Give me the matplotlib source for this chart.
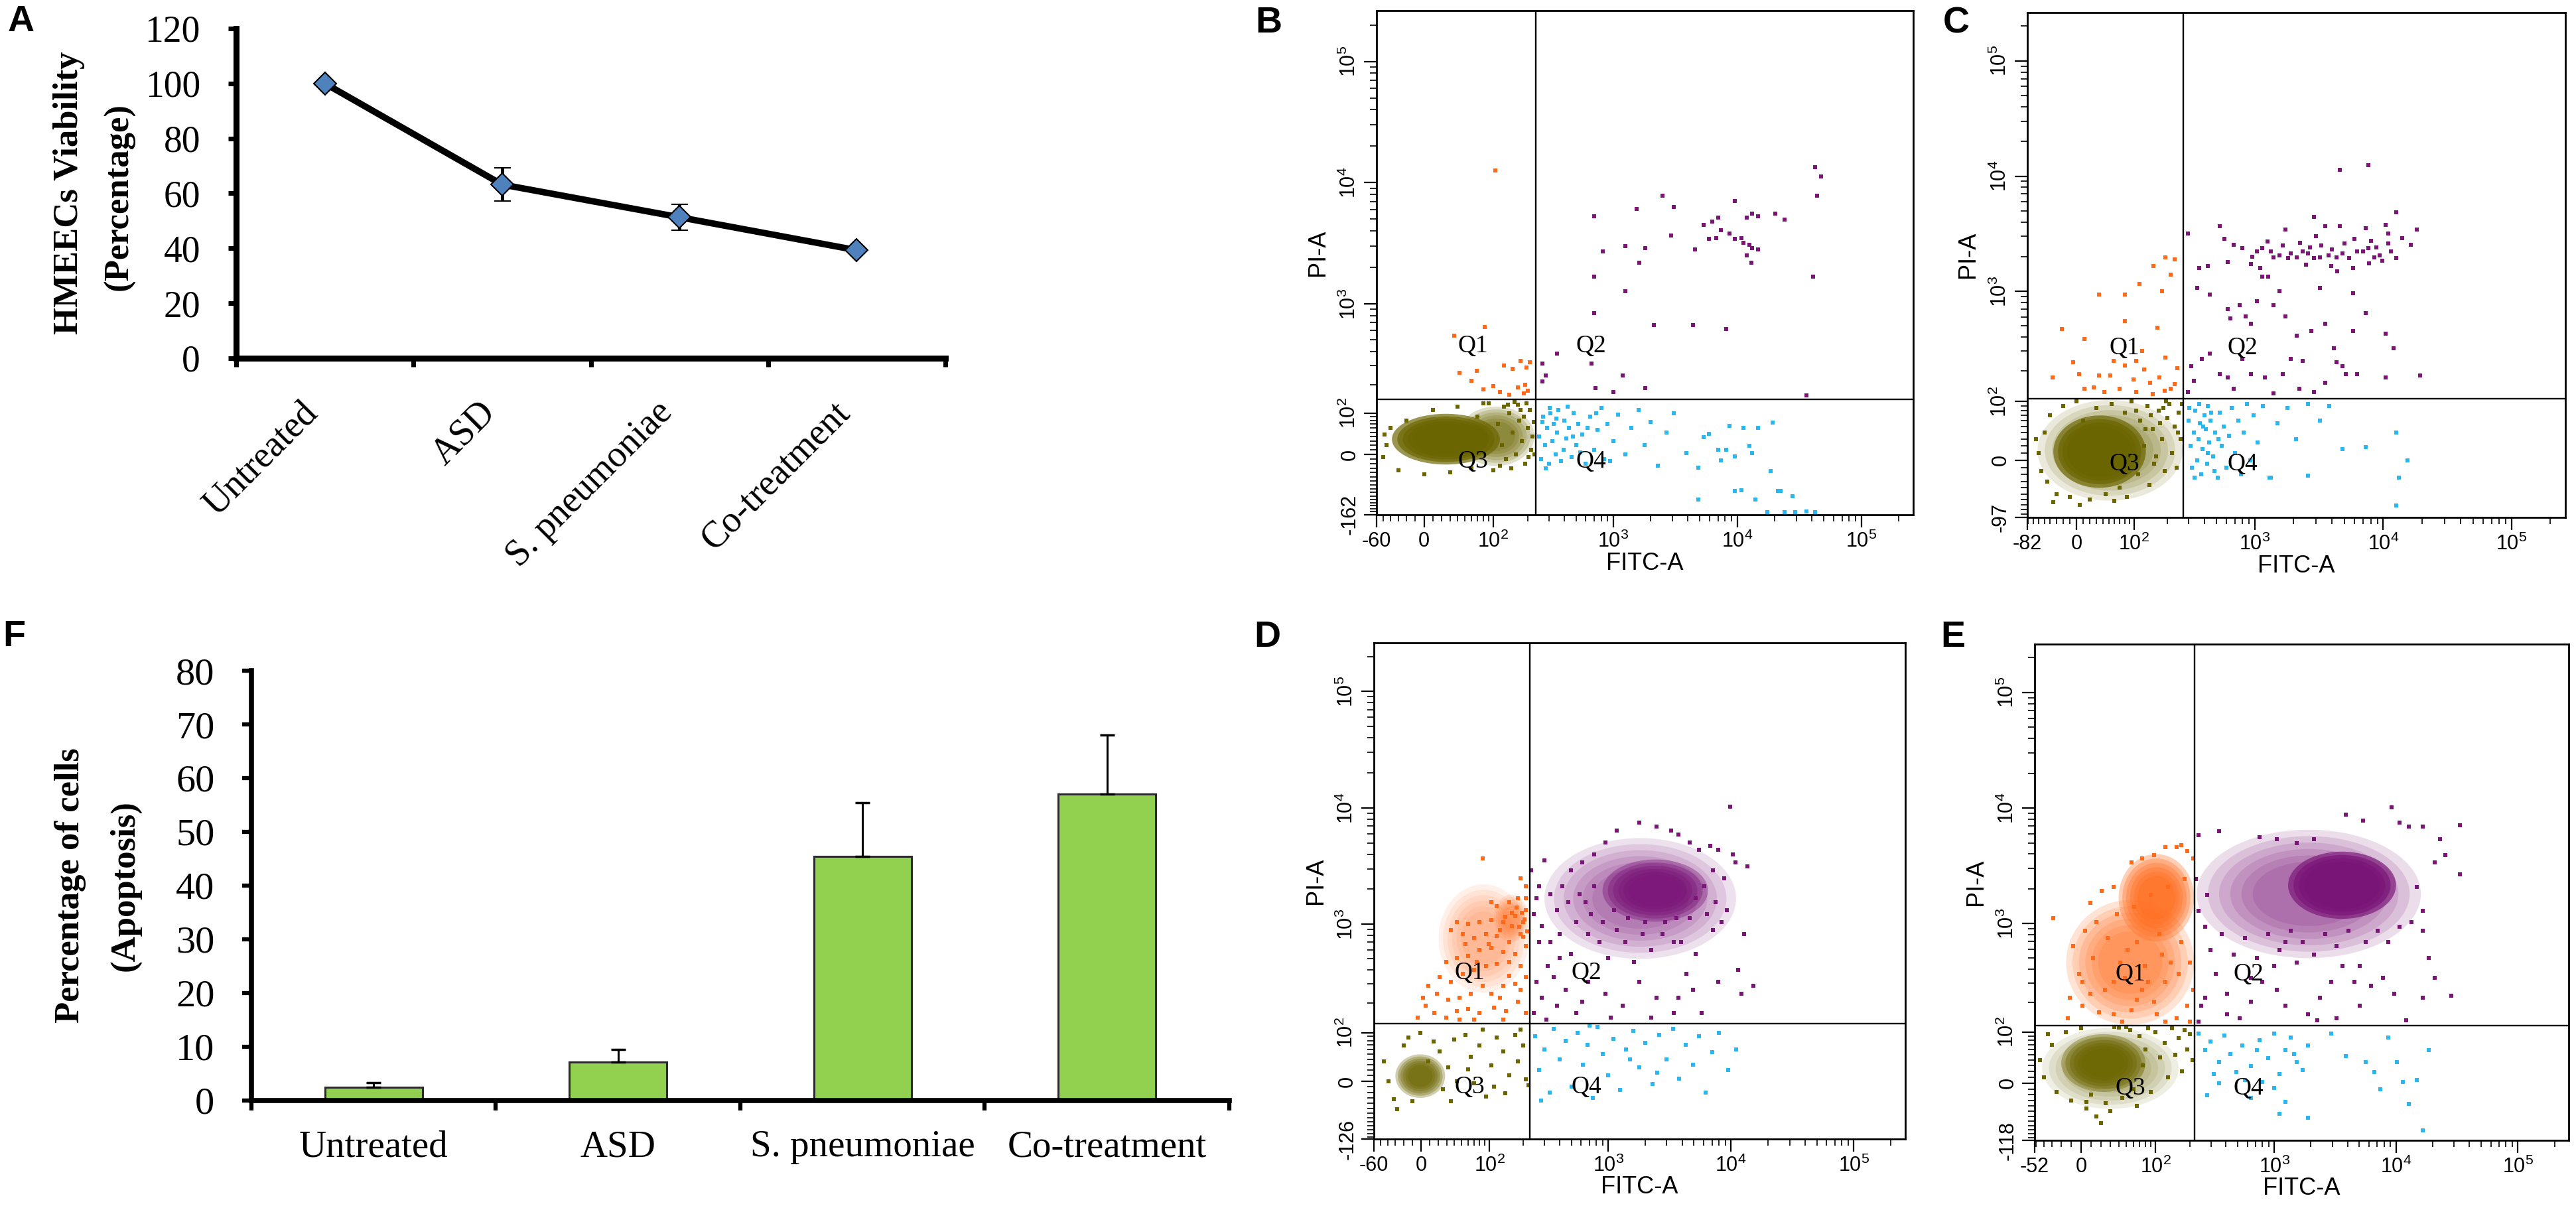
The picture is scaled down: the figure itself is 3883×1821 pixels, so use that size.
import numpy as np
import matplotlib
matplotlib.use("Agg")
import matplotlib.pyplot as plt

plt.rcParams["font.family"] = ["Liberation Sans", "DejaVu Sans"]
plt.rcParams["mathtext.fontset"] = "custom"
plt.rcParams["mathtext.rm"] = "Liberation Sans"
plt.rcParams["mathtext.it"] = "Liberation Sans:italic"
plt.rcParams["mathtext.bf"] = "Liberation Sans:bold"

# ---------------- panel A / F data
groups = ["Untreated", "ASD", "S. pneumoniae", "Co-treatment"]
viab = [100, 63.2, 51.3, 39.3]
viab_err = [0, 6, 4.7, 0.8]
apop = [2.5, 7.2, 45.4, 57.0]
apop_err = [0.8, 2.3, 10.0, 11.0]

# ---------------- flow panels (FITC-A, PI-A) events
# axis minimums shown on the plots, and quadrant gates
b_min = (-60, -162)
c_min = (-82, -97)
d_min = (-60, -126)
e_min = (-52, -118)
b_gate = (233, 143)
c_gate = (272, 107)
d_gate = (227, 126)
e_gate = (220, 119)

# B : untreated
b_q1 = [(104, 12600), (83, 640), (35, 540), (42, 260), (68, 270), (125, 300), (150, 280),
        (175, 330), (195, 290), (210, 320), (80, 180), (100, 195), (115, 170), (140, 160),
        (165, 190), (190, 200), (185, 165), (60, 220), (200, 175)]
b_q2 = [(700, 5300), (1540, 6100), (2490, 7800), (3070, 6300), (2920, 3680), (1250, 2990),
        (1810, 2900), (820, 2700), (1620, 2185), (700, 1680), (1250, 1270), (700, 840),
        (2120, 670), (350, 380), (265, 315), (285, 245), (1200, 245), (1810, 187), (720, 187),
        (1000, 170), (265, 215), (670, 315), (5390, 4490), (6330, 4800), (7000, 5170),
        (9600, 7060), (12000, 5170), (13200, 5550), (14800, 5300), (20400, 5550), (24000, 4950),
        (7400, 4070), (8700, 3800), (9600, 3440), (10800, 3500), (11300, 3200), (12600, 3080),
        (13200, 2900), (14800, 2820), (12000, 2520), (13000, 2185), (4600, 2820), (5950, 3440),
        (6800, 3500), (42700, 13400), (47700, 11300), (44000, 7800), (40700, 1680), (4400, 670),
        (8200, 620), (36300, 157)]
b_q3 = [(-45, 20), (-40, 60), (-30, -35), (-20, 80), (0, -45), (10, 110), (30, -40), (40, 120),
        (60, -30), (70, 90), (90, 130), (110, 70), (120, 20), (130, -10), (140, 100), (150, 50),
        (160, 0), (170, 80), (180, 30), (190, -20), (200, 60), (210, 110), (215, 10), (220, 40),
        (125, 120), (100, -35), (80, 130), (165, 125), (185, 90), (145, -30), (205, -5), (195, 130),
        (-50, -5), (-48, 45), (225, 75), (228, 0), (175, 110), (155, 135), (115, -25), (135, 125)]
b_q4 = [(250, 40), (260, -10), (270, 90), (280, 20), (290, 60), (300, -20), (310, 100), (320, 30),
        (330, 70), (340, 0), (350, 50), (360, 110), (380, -15), (400, 80), (420, 35), (440, 60),
        (460, -5), (480, 100), (500, 20), (520, 70), (560, 45), (600, -20), (650, 90), (700, 10),
        (750, 55), (800, 115), (850, -10), (900, 70), (1000, 30), (1100, 95), (1250, 0),
        (1400, 60), (1600, 110), (1800, 20), (2000, 75), (2300, -25), (2700, 50), (3100, 100),
        (265, 75), (285, -30), (305, 115), (345, 85), (395, 10), (430, 120), (470, 40), (540, 5),
        (620, 60), (730, 100), (950, -15), (3900, 3), (4840, -29), (5390, 38), (5950, 47),
        (7000, 10), (7400, -13), (8200, 10), (8700, 65), (9600, -4), (11300, 60), (12600, 19),
        (13200, 3), (14800, 60), (18600, -36), (19200, 74), (9600, -86), (10800, -84),
        (21300, -86), (22300, -86), (28000, -101), (4840, -111), (14000, -111), (17600, -153),
        (24000, -153), (29500, -153), (36300, -150), (42700, -153)]
b_blobs = [("q3", 40, 228, -25, 120, 0.75), ("q3", -38, 115, -22, 98, 1.0)]

# C : ASD
c_q1 = [(-22, 472), (12, 382), (34, 940), (80, 940), (114, 1160), (153, 1670), (193, 1980),
        (230, 1900), (215, 1390), (180, 1010), (80, 550), (166, 485), (53, 180), (4, 185),
        (-36, 174), (-5, 237), (34, 180), (26, 140), (12, 135), (70, 135), (80, 222), (106, 245),
        (126, 204), (143, 155), (172, 174), (193, 262), (215, 135), (243, 212), (59, 245),
        (99, 165), (43, 125), (106, 125), (150, 120), (230, 150), (190, 130), (120, 300)]
c_q2 = [(297, 3200), (365, 1600), (425, 1670), (530, 3680), (580, 2870), (610, 1790), (680, 2540),
        (800, 2390), (935, 1740), (1035, 2230), (1140, 2390), (1330, 2230), (1400, 1980),
        (1560, 2060), (1740, 3430), (1820, 1940), (1900, 2140), (2120, 1980), (2350, 2230),
        (2600, 2140), (2900, 4400), (2900, 1940), (3210, 1980), (3540, 3680), (3750, 2060),
        (3960, 1670), (4330, 1980), (4580, 3680), (4840, 2140), (5400, 1940), (5800, 1600),
        (6270, 2230), (6950, 2230), (7290, 3550), (7650, 2390), (8050, 2750), (8500, 1980),
        (9350, 2060), (10400, 3790), (10900, 3200), (11500, 2230), (12700, 4870), (12700, 1940),
        (16500, 2540), (18300, 3430), (4580, 11300), (7650, 12450), (350, 1070), (445, 940),
        (610, 705), (645, 580), (760, 755), (845, 605), (935, 525), (1035, 820), (1140, 1350),
        (1270, 1350), (1400, 755), (1560, 1010), (1740, 605), (2120, 410), (2350, 245),
        (2750, 450), (3210, 1070), (3540, 525), (4150, 320), (4840, 220), (5800, 970),
        (5800, 450), (7290, 650), (10400, 425), (12100, 320), (19300, 180), (330, 160),
        (385, 255), (445, 285), (530, 185), (610, 174), (680, 135), (800, 255), (935, 185),
        (1200, 174), (1400, 122), (1650, 185), (1900, 255), (2230, 135), (2900, 125),
        (3540, 155), (4330, 237), (5100, 185), (6270, 185), (10400, 174), (315, 220), (297, 125),
        (1250, 2700), (1650, 2500), (2250, 2650), (2700, 2400), (3300, 2500), (4000, 2300),
        (5000, 2600), (6000, 2850), (8800, 2400), (11000, 2600), (14000, 2900), (1100, 1600),
        (2500, 1700), (4400, 1500), (7800, 1750), (950, 2000), (3000, 3000), (9800, 1850)]
c_q3 = [(-60, 10), (-50, 40), (-45, -30), (-40, 70), (-30, -50), (-20, 90), (-10, -55), (0, 100),
        (10, 60), (20, -60), (30, 85), (45, -50), (55, 95), (70, -40), (80, 75), (95, 100),
        (110, -20), (115, 60), (125, 20), (135, 90), (140, -35), (150, 45), (160, 5), (170, 80),
        (180, 30), (190, -15), (200, 65), (210, 95), (220, 10), (230, 50), (240, -10), (250, 75),
        (260, 30), (265, 95), (130, 45), (145, 70), (155, -5), (175, 55), (195, 100), (105, 80),
        (-55, -15), (85, -55), (-65, 30), (-35, -65), (5, -70), (60, -62), (185, 85), (245, 40)]
c_q4 = [(300, 60), (310, 20), (320, -10), (330, 40), (340, 80), (350, 0), (360, 30), (370, 55),
        (380, -20), (390, 15), (400, 70), (410, 45), (420, -5), (430, 90), (440, 25), (450, 60),
        (470, 5), (490, 40), (510, -25), (530, 75), (550, 20), (570, 50), (600, -10), (630, 35),
        (660, 85), (700, 10), (740, 60), (780, -20), (820, 40), (870, 95), (920, 0), (980, 70),
        (1050, 25), (1150, 90), (1300, -25), (1500, 55), (1800, 85), (2100, 30), (2600, 95),
        (3200, 60), (3800, 90), (4800, 15), (305, 85), (335, -25), (365, 95), (395, 50),
        (425, 10), (455, 75), (480, -15), (520, 30), (12700, 40), (15400, 0), (13300, -25),
        (12700, -71), (7290, 18), (2600, -22), (1330, -25)]
c_blobs = [("q3", -62, 268, -62, 104, 0.6), ("q3", -35, 130, -40, 70, 1.0)]

# D : S. pneumoniae
d_q1 = [(86, 3670), (190, 2490), (210, 2120), (180, 1670), (150, 1540), (117, 1430), (210, 1320),
        (170, 1175), (133, 1045), (104, 1085), (80, 1045), (60, 1000), (43, 1045), (35, 890),
        (52, 820), (70, 760), (92, 820), (117, 790), (150, 700), (190, 820), (210, 650),
        (170, 555), (133, 577), (104, 625), (80, 600), (60, 533), (43, 510), (29, 472), (21, 343),
        (35, 315), (52, 370), (70, 402), (92, 435), (117, 453), (150, 472), (190, 435),
        (210, 343), (170, 302), (133, 290), (104, 245), (86, 290), (64, 245), (47, 225),
        (32, 216), (18, 245), (8, 290), (5, 190), (15, 160), (29, 146), (43, 168), (60, 175),
        (80, 160), (110, 182), (141, 168), (180, 207), (210, 160), (-4, 146), (2, 225),
        (104, 1540), (125, 890), (160, 960), (200, 1045), (210, 1670), (98, 675), (56, 675),
        (75, 472), (150, 357), (190, 265), (125, 225), (70, 139), (133, 139), (47, 139),
        (195, 1250), (205, 1100), (185, 950), (215, 870), (175, 1400), (160, 1250), (200, 780),
        (140, 1150)]
d_q2 = [(301, 3530), (258, 1670), (245, 1225), (285, 960), (338, 700), (402, 510), (318, 435),
        (360, 343), (450, 265), (285, 225), (382, 190), (552, 160), (258, 315), (272, 700),
        (423, 2120), (495, 2890), (615, 3390), (765, 3980), (955, 5010), (1178, 6370),
        (1795, 7470), (2470, 6900), (3270, 6370), (765, 2120), (652, 1540), (552, 1045),
        (686, 820), (846, 700), (1004, 510), (1178, 890), (1383, 700), (1620, 472), (1905, 820),
        (2235, 600), (2760, 820), (3430, 700), (1795, 315), (2470, 225), (3430, 160),
        (1315, 190), (955, 245), (686, 315), (495, 555), (338, 1810), (382, 1320), (473, 1540),
        (582, 1810), (722, 1225), (907, 1045), (1120, 1320), (1450, 1130), (2000, 1045),
        (2900, 1045), (3600, 1130), (2235, 146), (1055, 146), (615, 207), (402, 820),
        (272, 2120), (231, 2890), (245, 160), (310, 139), (9830, 10180), (3720, 5900),
        (4600, 5010), (5470, 4390), (6750, 4700), (7880, 4390), (10330, 3980), (10860, 3390),
        (13630, 3130), (7130, 2890), (8800, 2490), (6080, 2120), (5170, 1670), (7500, 1540),
        (9300, 1320), (6390, 1225), (4600, 1130), (8330, 1045), (7130, 890), (12850, 820),
        (3930, 700), (5170, 555), (4350, 370), (7880, 315), (11450, 402), (15200, 290),
        (5780, 160), (4880, 265), (3720, 225), (12100, 245)]
d_q3 = [(-39, 0), (-32, -32), (-14, 87), (-1, 100), (21, 56), (32, 25), (40, 82), (43, 0),
        (56, 95), (64, 45), (70, -3), (80, 69), (92, -28), (104, 28), (117, 87), (133, 56),
        (150, 10), (170, 95), (180, 36), (200, 69), (210, 3), (25, -14), (35, -36), (-10, -36),
        (-45, 36), (-20, 69), (8, 36), (14, 78), (60, 21), (86, 108), (140, -21), (190, 108),
        (220, -7), (110, -10), (-28, -52)]
d_q4 = [(250, 90), (270, 20), (300, 60), (330, -20), (360, 110), (400, 40), (450, 80), (500, -10),
        (560, 100), (620, 30), (680, 70), (750, -30), (820, 115), (900, 50), (1000, 10),
        (1100, 85), (1250, -15), (1400, 60), (1600, 105), (1800, 25), (2000, 75), (2300, -5),
        (2600, 95), (3000, 40), (3400, 110), (3800, 5), (4300, 70), (4900, 30), (5500, 90),
        (6200, -20), (7000, 55), (8000, 100), (9500, 20), (11000, 60), (2500, 15), (1500, 40),
        (700, 120), (280, -35)]
d_blobs = [("q3", -30, 28, -30, 50, 0.9), ("q1", 20, 222, 250, 2200, 0.45),
           ("q1", 110, 222, 700, 1800, 0.55), ("q2", 300, 11000, 500, 5500, 0.55),
           ("q2", 900, 6500, 1050, 3600, 0.95)]

# E : co-treatment
e_q1 = [(-29, 1110), (-8, 635), (-2, 363), (-11, 221), (-13, 141), (1, 186), (9, 1520),
        (21, 1930), (34, 2090), (57, 3380), (74, 3660), (96, 3930), (122, 4610), (153, 4610),
        (189, 4250), (169, 4800), (213, 3660), (4, 873), (12, 499), (24, 261), (34, 155),
        (45, 129), (57, 169), (74, 261), (96, 202), (122, 308), (153, 141), (189, 186),
        (213, 261), (136, 460), (169, 688), (108, 807), (65, 688), (42, 460), (27, 745),
        (15, 1030), (38, 1205), (61, 1400), (90, 1780), (129, 2090), (179, 2450), (1, 308),
        (9, 240), (18, 162), (79, 427), (115, 540), (161, 363), (200, 460), (48, 334),
        (65, 211), (122, 129), (200, 129), (34, 308), (52, 586), (85, 308), (102, 155)]
e_q2 = [(236, 5860), (350, 6350), (760, 5630), (1050, 5410), (1535, 4990), (2115, 5410),
        (3860, 8750), (5340, 7750), (9170, 10200), (10700, 7450), (12750, 6880), (16600, 6880),
        (23000, 5410), (33500, 7150), (25500, 3930), (33500, 2660), (20700, 3380), (14880, 2090),
        (16600, 1295), (13460, 1030), (16600, 873), (18600, 499), (20700, 334), (28500, 230),
        (16600, 221), (12060, 135), (9680, 240), (7850, 334), (6240, 284), (5050, 186),
        (4530, 308), (3630, 427), (2941, 308), (2384, 221), (1894, 155), (1535, 460),
        (1232, 688), (998, 427), (801, 308), (643, 202), (521, 141), (410, 240), (331, 363),
        (267, 221), (236, 129), (299, 586), (370, 807), (462, 540), (576, 745), (718, 499),
        (894, 807), (1104, 586), (1362, 873), (1714, 688), (2115, 540), (2635, 807), (3250, 635),
        (4090, 873), (5640, 688), (7030, 873), (8670, 688), (10700, 945), (5050, 427),
        (3250, 141), (1232, 186), (410, 155), (250, 186), (1050, 261), (643, 334), (267, 945),
        (236, 1295), (280, 1780), (225, 2450), (2250, 135)]
e_q3 = [(-45, 40), (-40, 10), (-30, 70), (-25, -15), (-15, 100), (-10, -30), (0, 110), (5, -45),
        (15, -60), (25, -35), (35, 115), (45, -25), (55, 105), (60, -10), (70, 90), (75, 30),
        (80, 60), (90, -15), (100, 100), (110, 45), (120, 75), (130, 10), (140, 110), (150, 50),
        (160, 85), (170, 20), (180, 105), (190, 60), (200, 95), (210, 40), (-35, 95), (10, -20),
        (30, -50), (50, 115), (85, 110), (65, -40), (20, -75), (40, 112), (5, -32)]
e_q4 = [(236, 96), (267, 59), (299, 77), (350, 36), (390, 91), (436, 51), (490, 19), (548, 68),
        (643, 29), (760, 81), (894, 43), (998, 96), (1104, 15), (1232, 59), (1362, 86),
        (1535, 36), (1714, 22), (1894, 68), (801, 2), (998, -8), (350, -1), (643, -25),
        (1104, -55), (1894, -63), (2941, 96), (3860, 47), (5640, 36), (6630, 19), (8670, 86),
        (10200, 36), (11400, 2), (14880, 5), (18600, 59), (12750, -36), (16600, -92),
        (7440, -11), (315, 15), (280, -21), (1450, 51), (718, 59), (576, 5), (1232, -32)]
e_blobs = [("q3", -42, 160, -45, 112, 0.5), ("q3", -20, 80, -15, 95, 0.95),
           ("q1", -15, 217, 120, 1600, 0.7), ("q1", 40, 217, 700, 4000, 0.9),
           ("q2", 228, 16000, 500, 6500, 0.6), ("q2", 1300, 10000, 1100, 4200, 1.0)]

qcol = {"q1": "#FF6A1A", "q2": "#7A1578", "q3": "#6B6500", "q4": "#2CB6EE"}
TOP = 262144

fig = plt.figure(figsize=(38.83, 18.21), dpi=100)
serif = "Liberation Serif"

# ================= A : line chart
axA = fig.add_axes([0.0917, 0.7035, 0.2753, 0.2729])
xa = np.arange(len(groups))
axA.errorbar(xa, viab, yerr=viab_err, color="k", lw=7, marker="D", ms=17,
             mfc="#4F81BD", mec="k", mew=1.5, ecolor="k", elinewidth=3.5,
             capsize=9, capthick=4, zorder=3)
axA.set_xlim(-0.5, 3.5)
axA.set_ylim(0, 120)
for s in ["top", "right"]:
    axA.spines[s].set_visible(False)
for s in ["left", "bottom"]:
    axA.spines[s].set_linewidth(6.5)
axA.set_yticks(range(0, 121, 20), labels=[str(v) for v in range(0, 121, 20)],
               fontfamily=serif, fontsize=40)
axA.set_xticks([-0.5, 0.5, 1.5, 2.5, 3.5], labels=[])
axA.set_xticks(xa, labels=groups, minor=True, rotation=45, ha="right", va="top",
               fontfamily=serif, fontsize=40)
axA.tick_params(axis="y", length=9, width=5, pad=30)
axA.tick_params(axis="x", which="major", length=9, width=5)
axA.tick_params(axis="x", which="minor", length=0, pad=40)
fig.text(104 / 3883, 1 - 291 / 1821, "HMEECs Viability", rotation=90, ha="center",
         va="center", fontsize=38, fontweight="bold", family=serif)
fig.text(180 / 3883, 1 - 297 / 1821, "(Percentage)", rotation=90, ha="center",
         va="center", fontsize=38, fontweight="bold", family=serif)

# ================= F : bar chart
axF = fig.add_axes([0.0976, 0.0890, 0.3796, 0.3558])
xf = np.arange(len(groups))
axF.bar(xf, apop, width=0.4, color="#92D050", edgecolor="#2B2B2B", lw=2.2, zorder=2)
axF.errorbar(xf, apop, yerr=[[0] * len(apop), apop_err], fmt="none", ecolor="k",
             elinewidth=2.2, capsize=8, capthick=2.5, zorder=3)
axF.set_xlim(-0.5, 3.5)
axF.set_ylim(0, 80)
for s in ["top", "right"]:
    axF.spines[s].set_visible(False)
for s in ["left", "bottom"]:
    axF.spines[s].set_linewidth(5.5)
axF.set_yticks(range(0, 81, 10), labels=[str(v) for v in range(0, 81, 10)],
               fontfamily=serif, fontsize=42)
axF.set_xticks([-0.5, 0.5, 1.5, 2.5, 3.5], labels=[])
axF.set_xticks(xf, labels=groups, minor=True, fontfamily=serif, fontsize=41)
axF.tick_params(axis="y", length=10, width=4.5, pad=30)
axF.tick_params(axis="x", which="major", length=11, width=4.5)
axF.tick_params(axis="x", which="minor", length=0, pad=32)
fig.text(106 / 3883, 1 - 1335 / 1821, "Percentage of cells", rotation=90, ha="center",
         va="center", fontsize=38, fontweight="bold", family=serif)
fig.text(188 / 3883, 1 - 1335 / 1821, "(Apoptosis)", rotation=90, ha="center",
         va="center", fontsize=38, fontweight="bold", family=serif)


# ================= B-E : flow dot plots
def minor_ticks(lo, hi):
    lin = [v for v in range(-150, 100, 10) if v != 0]
    logs = [m * 10 ** k for k in range(2, 6) for m in range(2, 10)]
    return [v for v in lin + logs if lo < v < hi]


def flow(rect, mins, gate, pops, blobs):
    xmin, ymin = mins
    ax = fig.add_axes(rect)
    ax.set_xscale("asinh", linear_width=abs(xmin))
    ax.set_yscale("asinh", linear_width=0.71 * abs(ymin))
    ax.set_xlim(xmin, TOP)
    ax.set_ylim(ymin, TOP)
    tx = ax.xaxis.get_transform()
    ty = ax.yaxis.get_transform()
    t = np.linspace(0, 2 * np.pi, 160)
    # dense event clouds: nested ellipses in scale space, darker toward the middle
    shells = (1.0, 0.9, 0.8, 0.7, 0.6, 0.5)
    for q, x0, x1, y0, y1, dens in blobs:
        ux = tx.transform(np.array([x0, x1], float))
        uy = ty.transform(np.array([y0, y1], float))
        step = 1 - (1 - min(dens, 0.999)) ** (1 / len(shells))
        for k in shells:
            ex = ux.mean() + k * (ux[1] - ux[0]) / 2 * np.cos(t)
            ey = uy.mean() + k * (uy[1] - uy[0]) / 2 * np.sin(t)
            ax.fill(tx.inverted().transform(ex), ty.inverted().transform(ey),
                    color=qcol[q], alpha=step, lw=0, zorder=1)
    for q, pts in pops.items():
        xs, ys = zip(*pts)
        ax.scatter(xs, ys, s=15, marker="s", color=qcol[q], lw=0, zorder=2)
    ax.axvline(gate[0], color="k", lw=1.7, zorder=3)
    ax.axhline(gate[1], color="k", lw=1.7, zorder=3)
    for lab, (qx, qy) in zip(["Q1", "Q2", "Q3", "Q4"],
                             [(0.18, 0.335), (0.40, 0.335), (0.18, 0.105), (0.40, 0.105)]):
        ax.text(qx, qy, lab, transform=ax.transAxes, ha="center", va="center",
                fontsize=27, family=serif, zorder=4)
    dec = ["0", "$10^2$", "$10^3$", "$10^4$", "$10^5$"]
    ax.set_xticks([xmin, 0, 1e2, 1e3, 1e4, 1e5], labels=[str(xmin)] + dec)
    ax.set_xticks(minor_ticks(xmin, TOP), minor=True)
    ax.set_yticks([ymin, 0, 1e2, 1e3, 1e4, 1e5], labels=[str(ymin)] + dec,
                  rotation=90, va="center")
    ax.set_yticks(minor_ticks(ymin, TOP), minor=True)
    ax.tick_params(which="major", direction="out", length=14, width=1.6, labelsize=22, pad=4)
    ax.tick_params(which="minor", direction="out", length=7, width=1.2)
    for s in ax.spines.values():
        s.set_linewidth(2)
    ax.text(0.5, -0.097, "FITC-A", transform=ax.transAxes, ha="center", va="center",
            fontsize=26)
    ax.text(-0.11, 0.52, "PI-A", transform=ax.transAxes, ha="center", va="center",
            fontsize=26, rotation=90)
    return ax


flow([0.5344, 0.5739, 0.2083, 0.4173], b_min, b_gate,
     {"q3": b_q3, "q1": b_q1, "q2": b_q2, "q4": b_q4}, b_blobs)
flow([0.7870, 0.5717, 0.2089, 0.4179], c_min, c_gate,
     {"q3": c_q3, "q1": c_q1, "q2": c_q2, "q4": c_q4}, c_blobs)
flow([0.5334, 0.0571, 0.2062, 0.4108], d_min, d_gate,
     {"q3": d_q3, "q1": d_q1, "q2": d_q2, "q4": d_q4}, d_blobs)
flow([0.7898, 0.0560, 0.2074, 0.4108], e_min, e_gate,
     {"q3": e_q3, "q1": e_q1, "q2": e_q2, "q4": e_q4}, e_blobs)

# panel letters
for lab, (px, py) in zip("AFBCDE", [(32, 33), (21, 960), (1912, 35), (2949, 35),
                                    (1910, 961), (2944, 961)]):
    fig.text(px / 3883, 1 - py / 1821, lab, ha="center", va="center", fontsize=40,
             fontweight="bold")

fig.savefig("out.png", dpi=100)
